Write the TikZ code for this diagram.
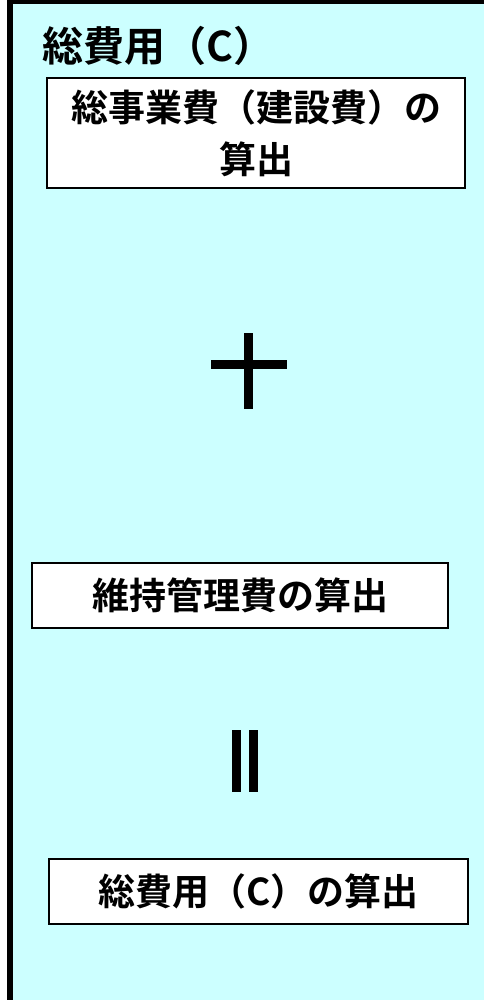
\documentclass[tikz,border=0pt]{standalone}
\usepackage{fontspec}
\newfontfamily\jp{Noto Sans CJK JP}[BoldFont=* Bold]
\definecolor{bgcyan}{HTML}{CCFFFF}
\begin{document}
\begin{tikzpicture}[x=1pt,y=-1pt,
  box/.style={draw=black, line width=1.8pt, fill=white, inner sep=0pt, align=center,
    font=\jp\bfseries\fontsize{37}{52}\selectfont},
  ttl/.style={inner sep=0pt, font=\jp\bfseries\fontsize{41}{46}\selectfont},
  bar/.style={fill=black}]
\useasboundingbox (0,0) rectangle (484,1000);
\fill[white] (0,0) rectangle (484,1000);
\fill[bgcyan] (7,0) rectangle (484,1000);
\fill[black] (7,0) rectangle (13,1000);
\fill[black] (7,0) rectangle (484,4);
\node[ttl, anchor=west] (title) at (42,46) {総費用（C）};
\node[box, minimum width=418pt, minimum height=110pt] (b1) at (256,133) {総事業費（建設費）の\\算出};
% plus sign
\fill[bar] (244,333) rectangle (253,409);
\fill[bar] (211,360) rectangle (287,369);
\node[box, minimum width=416pt, minimum height=65pt] (b2) at (240,595.5) {維持管理費の算出};
% equals sign (vertical)
\fill[bar] (232,730) rectangle (241,792);
\fill[bar] (249,730) rectangle (258,792);
\node[box, minimum width=419pt, minimum height=65pt] (b3) at (258.5,891.5) {総費用（C）の算出};
\end{tikzpicture}
\end{document}
